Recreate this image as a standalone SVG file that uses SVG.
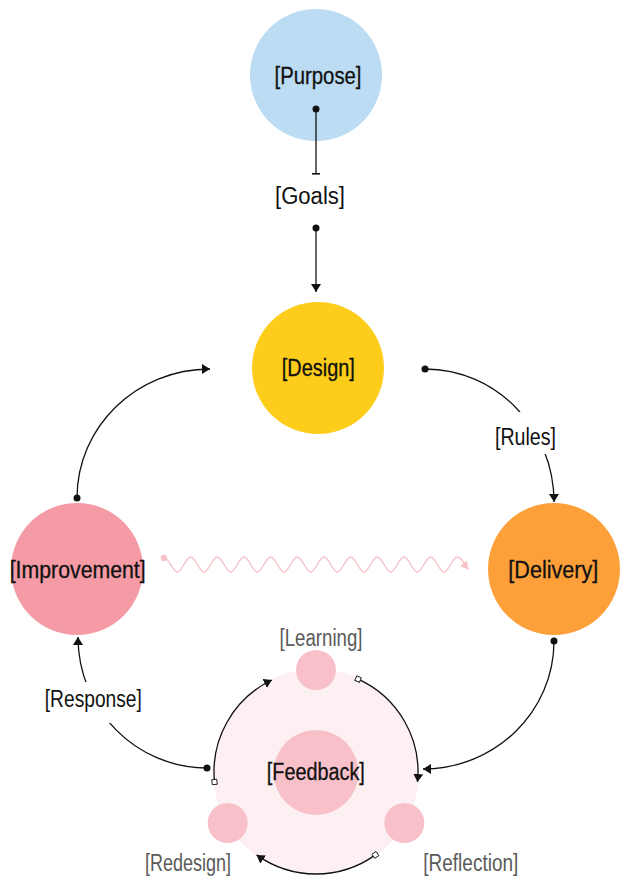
<svg xmlns="http://www.w3.org/2000/svg" width="621" height="889" viewBox="0 0 621 889">
<defs>
<style>
.lbl{font-family:"Liberation Sans","DejaVu Sans",sans-serif;font-size:23.5px;text-anchor:middle;fill:#111;}
.node{stroke:#111;stroke-width:0.3px;}
.sub{fill:#5a5a5a;font-size:23px;}
.edge{fill:none;stroke:#111;stroke-width:1.3;}
.wave{fill:none;stroke:#f8c3ca;stroke-width:1.5;}
</style>
<marker id="arrow" viewBox="0 0 8 10" refX="8" refY="5" markerWidth="8" markerHeight="10" orient="auto" markerUnits="userSpaceOnUse"><path d="M0,0 L8,5 L0,10 z" fill="#111"/></marker>
<marker id="dot" viewBox="0 0 8 8" refX="4" refY="4" markerWidth="8" markerHeight="8" orient="auto" markerUnits="userSpaceOnUse"><circle cx="4" cy="4" r="3.5" fill="#111"/></marker>
<marker id="tee" viewBox="0 0 2 8" refX="1" refY="4" markerWidth="2" markerHeight="8" orient="auto" markerUnits="userSpaceOnUse"><rect x="0" y="0" width="1.6" height="8" fill="#111"/></marker>
<marker id="sq" viewBox="0 0 7 7" refX="3.5" refY="3.5" markerWidth="7" markerHeight="7" orient="auto" markerUnits="userSpaceOnUse"><rect x="1" y="1" width="5" height="5" fill="#fff" stroke="#111" stroke-width="0.9"/></marker>
<marker id="parrow" viewBox="0 0 8 9" refX="8" refY="4.5" markerWidth="8" markerHeight="9" orient="auto" markerUnits="userSpaceOnUse"><path d="M0,0 L8,4.5 L0,9 z" fill="#f8c3ca"/></marker>
<marker id="pdot" viewBox="0 0 8 8" refX="4" refY="4" markerWidth="8" markerHeight="8" orient="auto" markerUnits="userSpaceOnUse"><circle cx="4" cy="4" r="3.2" fill="#f8c3ca"/></marker>
</defs>
<rect width="621" height="889" fill="#fff"/>

<g id="feedback">
<circle cx="316" cy="772" r="103" fill="#fdf0f2"/>
<circle cx="316" cy="772.5" r="42.5" fill="#f8c1ca"/>
</g>
<g id="learning"><circle cx="316" cy="670" r="20" fill="#f8c1ca"/></g>
<g id="redesign"><circle cx="227.7" cy="823" r="20" fill="#f8c1ca"/></g>
<g id="reflection"><circle cx="404.3" cy="823" r="20" fill="#f8c1ca"/></g>
<g id="purpose"><circle cx="316" cy="75" r="66" fill="#bbdcf3"/></g>
<g id="design"><circle cx="318" cy="368" r="66" fill="#fecd1b"/></g>
<g id="delivery"><circle cx="554" cy="569" r="66" fill="#fea03a"/></g>
<g id="improvement"><circle cx="77" cy="569" r="66" fill="#f49ba6"/></g>

<g id="connectors">
<path class="edge" d="M316,109 L316,174" marker-start="url(#dot)" marker-end="url(#tee)"/>
<path class="edge" d="M316,228 L316,292" marker-start="url(#dot)" marker-end="url(#arrow)"/>
<path class="edge" d="M425,369 C496.2,369 554,428.5 554,502" marker-start="url(#dot)" marker-end="url(#arrow)"/>
<path class="edge" d="M554,641 C554,711.7 495.4,769 423,769" marker-start="url(#dot)" marker-end="url(#arrow)"/>
<path class="edge" d="M77,498 C77,426.8 136.5,369 210,369" marker-start="url(#dot)" marker-end="url(#arrow)"/>
<path class="edge" d="M207,768 C135.8,768 78,709.4 78,637" marker-start="url(#dot)" marker-end="url(#arrow)"/>
<path class="edge" d="M214.5,782 A102,102 0 0 1 271.9,680" marker-start="url(#sq)" marker-end="url(#arrow)"/>
<path class="edge" d="M358.1,679.1 A102,102 0 0 1 417.5,782" marker-start="url(#sq)" marker-end="url(#arrow)"/>
<path class="edge" d="M375.4,854.9 A102,102 0 0 1 256.6,854.9" marker-start="url(#sq)" marker-end="url(#arrow)"/>
<path class="wave" marker-start="url(#pdot)" marker-end="url(#parrow)" d="M164,558 C168.86,557 172.47,572 177.33,572 S185.81,557 190.67,557 S199.14,572 204,572 S212.47,557 217.33,557 S225.81,572 230.67,572 S239.14,557 244,557 S252.47,572 257.33,572 S265.81,557 270.67,557 S279.14,572 284,572 S292.47,557 297.33,557 S305.81,572 310.67,572 S319.14,557 324,557 S332.47,572 337.33,572 S345.81,557 350.67,557 S359.14,572 364,572 S372.47,557 377.33,557 S385.81,572 390.67,572 S399.14,557 404,557 S412.47,572 417.33,572 S425.81,557 430.67,557 S439.14,572 444,572 S452.47,557 457.33,557 S464,564 468.5,569.5"/>
</g>

<g id="label-rules">
<rect x="486" y="412" width="78" height="42" fill="#fff"/>
<text class="lbl" x="525.5" y="444.5" textLength="61" lengthAdjust="spacingAndGlyphs">[Rules]</text>
</g>
<g id="label-response">
<rect x="38" y="682" width="110" height="41" fill="#fff"/>
<text class="lbl" x="93.3" y="706.5" textLength="97" lengthAdjust="spacingAndGlyphs">[Response]</text>
</g>
<g id="goals">
<text class="lbl" x="310" y="203.5" textLength="70" lengthAdjust="spacingAndGlyphs">[Goals]</text>
</g>

<g id="labels">
<text class="lbl node" x="318" y="83.5" textLength="87" lengthAdjust="spacingAndGlyphs">[Purpose]</text>
<text class="lbl node" x="318.3" y="375.5" textLength="73" lengthAdjust="spacingAndGlyphs">[Design]</text>
<text class="lbl node" x="553.3" y="577.5" textLength="90" lengthAdjust="spacingAndGlyphs">[Delivery]</text>
<text class="lbl node" x="77.7" y="577.5" textLength="136" lengthAdjust="spacingAndGlyphs">[Improvement]</text>
<text class="lbl node" x="315.8" y="779.5" textLength="98" lengthAdjust="spacingAndGlyphs">[Feedback]</text>
<text class="lbl sub" x="321" y="645.5" textLength="83" lengthAdjust="spacingAndGlyphs">[Learning]</text>
<text class="lbl sub" x="188" y="870.5" textLength="86" lengthAdjust="spacingAndGlyphs">[Redesign]</text>
<text class="lbl sub" x="470.8" y="870.5" textLength="95" lengthAdjust="spacingAndGlyphs">[Reflection]</text>
</g>
</svg>
